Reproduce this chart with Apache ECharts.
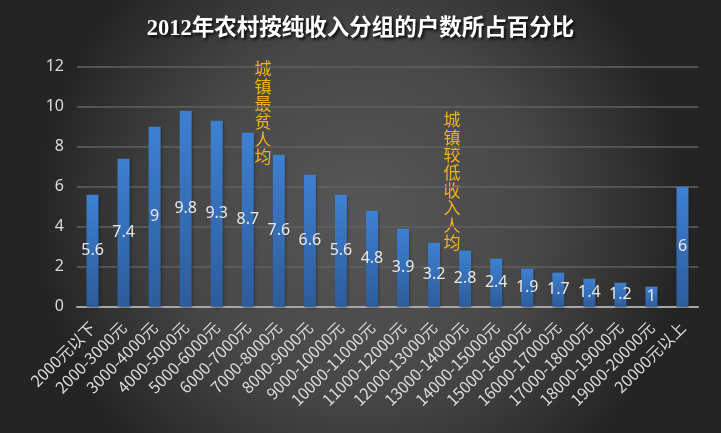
<!DOCTYPE html>
<html><head><meta charset="utf-8">
<script src="https://cdn.jsdelivr.net/npm/echarts@6/dist/echarts.min.js"></script>
<style>html,body{margin:0;padding:0;background:#333;}#c{width:721px;height:433px;}</style>
</head><body><div id="c"></div>
<script>
var categories = ['2000元以下','2000-3000元','3000-4000元','4000-5000元','5000-6000元','6000-7000元','7000-8000元','8000-9000元','9000-10000元','10000-11000元','11000-12000元','12000-13000元','13000-14000元','14000-15000元','15000-16000元','16000-17000元','17000-18000元','18000-19000元','19000-20000元','20000元以上'];
var values = [5.6,7.4,9,9.8,9.3,8.7,7.6,6.6,5.6,4.8,3.9,3.2,2.8,2.4,1.9,1.7,1.4,1.2,1,6];
var titleText = '2012年农村按纯收入分组的户数所占百分比';
var note1 = '城镇最贫人均';
var note2 = '城镇较低收入人均';

var chart = echarts.init(document.getElementById('c'));
function vtext(s){ return s.split('').join('\n'); }
chart.setOption({
  backgroundColor: {type:'radial', x:0.5, y:0.5, r:0.75, colorStops:[{offset:0,color:'#575757'},{offset:0.55,color:'#474747'},{offset:1,color:'#242424'}]},
  title: {text: titleText, left:'center', top:13,
    textStyle:{color:'#ffffff', fontSize:22.5, fontWeight:'bold', fontFamily:'"Liberation Serif","Noto Sans CJK SC",serif',
      textShadowColor:'rgba(0,0,0,0.85)', textShadowBlur:3, textShadowOffsetX:2, textShadowOffsetY:2}},
  grid: {left:77, right:23, top:66.7, bottom:126.3},
  xAxis: {type:'category', data: categories,
    axisLine:{lineStyle:{color:'#a6a6a6', width:2}},
    axisTick:{show:false},
    axisLabel:{rotate:45, interval:0, color:'#dcdcdc', fontSize:16, margin:18, fontFamily:'"Noto Sans CJK SC",sans-serif'}},
  yAxis: {type:'value', min:0, max:12, interval:2,
    axisLine:{show:false}, axisTick:{show:false},
    splitLine:{lineStyle:{color:'#606060', width:1.5}},
    axisLabel:{color:'#dcdcdc', fontSize:16, margin:13, fontFamily:'"Noto Sans",sans-serif'}},
  series: [{type:'bar', data: values, barWidth:12,
    itemStyle:{color:{type:'linear',x:0,y:0,x2:0,y2:1,colorStops:[{offset:0,color:'#3d80d2'},{offset:1,color:'#2d5c9b'}]},
      shadowColor:'rgba(0,0,0,0.4)', shadowBlur:3, shadowOffsetX:1, shadowOffsetY:1},
    label:{show:true, position:'inside', color:'#e8e8e8', fontSize:16, fontFamily:'"Noto Sans",sans-serif'}
  }],
  graphic: [
    {type:'text', left:254.5, top:60, style:{text: vtext(note1), fill:'#f2b21c', fontSize:17, lineHeight:17.6, fontFamily:'"Noto Sans CJK SC",sans-serif'}},
    {type:'text', left:443.5, top:111, style:{text: vtext(note2), fill:'#f2b21c', fontSize:17, lineHeight:17.6, fontFamily:'"Noto Sans CJK SC",sans-serif'}}
  ]
});
</script></body></html>
